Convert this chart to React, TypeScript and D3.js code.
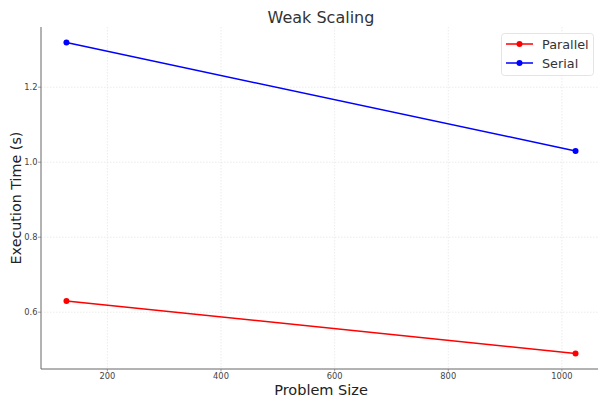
import React from "react";
import * as d3 from "d3";

const problemSizes = [128, 1024];
const parallelTimes = [0.63, 0.49];
const serialTimes = [1.319, 1.03];
const xTicks = [200, 400, 600, 800, 1000];
const yTicks = [0.6, 0.8, 1.0, 1.2];
const seriesNames = ["Parallel", "Serial"];
const seriesColors = ["#ff0000", "#0000ff"];

const W = 598, H = 401;
const left = 41, right = 601, top = 27, bottom = 369;

export default function App() {
  const xs = d3.scaleLinear().domain([83.2, 1068.8]).range([left, right]);
  const ys = d3.scaleLinear().domain([0.4485, 1.3605]).range([bottom, top]);
  const series = [parallelTimes, serialTimes];
  const line = d3.line<number>().x((_, i) => xs(problemSizes[i])).y((d) => ys(d));
  const font = "DejaVu Sans, sans-serif";
  return (
    <svg width={W} height={H} style={{ position: "absolute", left: 0, top: 0, background: "#fff" }} fontFamily={font}>
      <defs>
        <clipPath id="c"><rect x={left} y={top} width={right - left} height={bottom - top} /></clipPath>
      </defs>
      {xTicks.map((t) => (
        <g key={"x" + t}>
          <line x1={xs(t)} x2={xs(t)} y1={top} y2={bottom} stroke="#e2e2e2" strokeWidth={0.7} strokeDasharray="1.5,1.5" />
          <line x1={xs(t)} x2={xs(t)} y1={bottom} y2={bottom + 2.5} stroke="#777" strokeWidth={0.7} />
          <text x={xs(t)} y={bottom + 9.5} fontSize={8.3} fill="#444" textAnchor="middle">{t}</text>
        </g>
      ))}
      {yTicks.map((t) => (
        <g key={"y" + t}>
          <line x1={left} x2={right} y1={ys(t)} y2={ys(t)} stroke="#e2e2e2" strokeWidth={0.7} strokeDasharray="1.5,1.5" />
          <line x1={left - 3} x2={left} y1={ys(t)} y2={ys(t)} stroke="#777" strokeWidth={0.7} />
          <text x={left - 3.5} y={ys(t) + 3} fontSize={8.3} fill="#444" textAnchor="end">{t.toFixed(1)}</text>
        </g>
      ))}
      <line x1={left} x2={left} y1={top} y2={bottom} stroke="#666" strokeWidth={1} />
      <line x1={left} x2={right} y1={bottom} y2={bottom} stroke="#666" strokeWidth={1} />
      <g clipPath="url(#c)">
        {series.map((s, k) => (
          <g key={k}>
            <path d={line(s) || ""} fill="none" stroke={seriesColors[k]} strokeWidth={1.5} />
            {s.map((v, i) => (
              <circle key={i} cx={xs(problemSizes[i])} cy={ys(v)} r={3} fill={seriesColors[k]} />
            ))}
          </g>
        ))}
      </g>
      <text x={321} y={23} fontSize={16} fill="#333" textAnchor="middle">Weak Scaling</text>
      <text x={321} y={394.5} fontSize={14.5} fill="#222" textAnchor="middle">Problem Size</text>
      <text transform={`translate(21,${(top + bottom) / 2}) rotate(-90)`} fontSize={14.3} fill="#222" textAnchor="middle">Execution Time (s)</text>
      <g>
        <rect x={501.5} y={33.5} width={92} height={42} rx={3} fill="#fff" fillOpacity={0.8} stroke="#ddd" strokeWidth={0.8} />
        {seriesNames.map((n, k) => (
          <g key={n}>
            <line x1={506} x2={533} y1={44 + k * 19} y2={44 + k * 19} stroke={seriesColors[k]} strokeWidth={1.5} />
            <circle cx={519.5} cy={44 + k * 19} r={3} fill={seriesColors[k]} />
            <text x={542} y={48.5 + k * 19} fontSize={12.8} fill="#333">{n}</text>
          </g>
        ))}
      </g>
    </svg>
  );
}
